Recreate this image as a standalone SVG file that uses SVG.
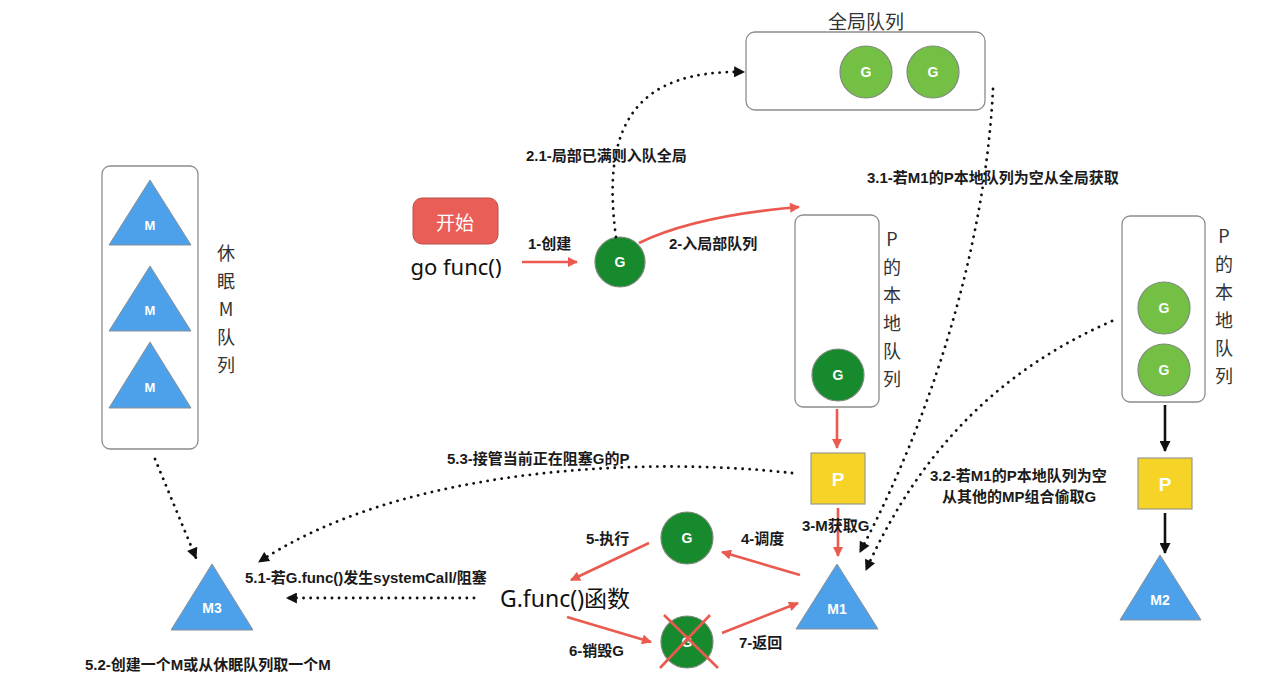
<svg xmlns="http://www.w3.org/2000/svg" width="1279" height="697" viewBox="0 0 1279 697">
<style>
.box{fill:#fff;stroke:#8c8c8c;stroke-width:1.3}
.gd{fill:#178A2E;stroke:#7d8a7d;stroke-width:1.2}
.gl{fill:#74C044;stroke:#7d8a7d;stroke-width:1.2}
.tri{fill:#4DA1EB;stroke:#8a8f94;stroke-width:1}
.pbox{fill:#F5D327;stroke:#9a9a8a;stroke-width:1.2}
.wt{font-family:"Liberation Sans","Noto Sans CJK SC",sans-serif;font-weight:bold;fill:#fff;text-anchor:middle;dominant-baseline:central}
.lb{font-family:"Liberation Sans","Noto Sans CJK SC",sans-serif;font-weight:bold;font-size:15px;fill:#1a1a1a;dominant-baseline:central}
.vt{font-family:"Noto Sans CJK SC",sans-serif;font-size:18px;fill:#333;text-anchor:middle}
.red{fill:none;stroke:#EB5A4F;stroke-width:2.6}
.blk{fill:none;stroke:#111;stroke-width:2.6}
.dot{fill:none;stroke:#111;stroke-width:2.8;stroke-linecap:round;stroke-dasharray:0.1 7}
</style>
<defs>
<marker id="ar" viewBox="0 0 10 10" refX="9" refY="5" markerWidth="12" markerHeight="10" markerUnits="userSpaceOnUse" orient="auto"><path d="M0,0 L10,5 L0,10 z" fill="#EB5A4F"/></marker>
<marker id="ab" viewBox="0 0 10 10" refX="9" refY="5" markerWidth="12" markerHeight="11" markerUnits="userSpaceOnUse" orient="auto"><path d="M0,0 L10,5 L0,10 z" fill="#111"/></marker>
<marker id="ad" viewBox="0 0 10 10" refX="9" refY="5" markerWidth="12" markerHeight="11" markerUnits="userSpaceOnUse" orient="auto"><path d="M0,0 L10,5 L0,10 z" fill="#111"/></marker>
</defs>
<rect width="1279" height="697" fill="#fff"/>

<g id="global-queue">
<text x="866" y="29" font-family="Noto Sans CJK SC,sans-serif" font-size="19" fill="#333" text-anchor="middle">全局队列</text>
<rect class="box" x="746" y="32" width="239" height="78" rx="9"/>
<circle class="gl" cx="866" cy="72" r="26"/>
<text class="wt" x="866" y="72" font-size="14">G</text>
<circle class="gl" cx="933" cy="72" r="26"/>
<text class="wt" x="933" y="72" font-size="14">G</text>
</g>

<g id="start">
<rect x="413" y="198" width="85" height="46" rx="9" fill="#EA5E58" stroke="#b8524c" stroke-width="1"/>
<text x="455" y="221" font-family="Noto Sans CJK SC,sans-serif" font-size="19" fill="#fff" text-anchor="middle" dominant-baseline="central">开始</text>
<text x="456" y="275" font-family="Noto Sans,sans-serif" font-size="22" fill="#111" text-anchor="middle">go func()</text>
</g>

<g id="g-new">
<circle class="gd" cx="620" cy="262" r="25"/>
<text class="wt" x="620" y="262" font-size="14">G</text>
</g>

<g id="p-local-1">
<rect class="box" x="795" y="215" width="84" height="192" rx="8"/>
<circle class="gd" cx="838" cy="375" r="26"/>
<text class="wt" x="838" y="375" font-size="14">G</text>
<text class="vt" x="892"><tspan x="892" y="246">P</tspan><tspan x="892" y="274">的</tspan><tspan x="892" y="302">本</tspan><tspan x="892" y="330">地</tspan><tspan x="892" y="358">队</tspan><tspan x="892" y="386">列</tspan></text>
</g>

<g id="p1">
<rect class="pbox" x="811" y="453" width="54" height="51"/>
<text class="wt" x="838" y="479" font-size="19">P</text>
</g>

<g id="m1">
<polygon class="tri" points="837,564 878,629 796,629"/>
<text class="wt" x="837" y="609" font-size="14">M1</text>
</g>

<g id="p-local-2">
<rect class="box" x="1122" y="216" width="83" height="186" rx="8"/>
<circle class="gl" cx="1164" cy="308" r="26"/>
<text class="wt" x="1164" y="308" font-size="14">G</text>
<circle class="gl" cx="1164" cy="370" r="26"/>
<text class="wt" x="1164" y="370" font-size="14">G</text>
<text class="vt" x="1224"><tspan x="1224" y="243">P</tspan><tspan x="1224" y="271">的</tspan><tspan x="1224" y="299">本</tspan><tspan x="1224" y="327">地</tspan><tspan x="1224" y="355">队</tspan><tspan x="1224" y="383">列</tspan></text>
</g>

<g id="p2">
<rect class="pbox" x="1138" y="458" width="54" height="51"/>
<text class="wt" x="1165" y="484" font-size="19">P</text>
</g>

<g id="m2">
<polygon class="tri" points="1160,555 1201,620 1120,620"/>
<text class="wt" x="1160" y="600" font-size="14">M2</text>
</g>

<g id="sleep-queue">
<rect class="box" x="102" y="166" width="96" height="283" rx="8"/>
<polygon class="tri" points="150,180 191,245 109,245"/>
<text class="wt" x="150" y="225" font-size="13">M</text>
<polygon class="tri" points="150,266 191,331 109,331"/>
<text class="wt" x="150" y="310" font-size="13">M</text>
<polygon class="tri" points="150,342 191,408 109,408"/>
<text class="wt" x="150" y="387" font-size="13">M</text>
<text class="vt" x="226"><tspan x="226" y="260">休</tspan><tspan x="226" y="288">眠</tspan><tspan x="226" y="316">M</tspan><tspan x="226" y="344">队</tspan><tspan x="226" y="372">列</tspan></text>
</g>

<g id="m3">
<polygon class="tri" points="212,564 253,630 171,630"/>
<text class="wt" x="212" y="608" font-size="14">M3</text>
</g>

<g id="g-exec">
<circle class="gd" cx="687" cy="538" r="26"/>
<text class="wt" x="687" y="538" font-size="14">G</text>
</g>

<g id="func-text">
<text x="565" y="598" font-family="Noto Sans,Noto Sans CJK SC,sans-serif" font-size="23" fill="#111" text-anchor="middle" dominant-baseline="central">G.func()函数</text>
</g>

<g id="g-dead">
<circle class="gd" cx="687" cy="642" r="26"/>
<text class="wt" x="687" y="642" font-size="14">G</text>
<line x1="664" y1="615" x2="718" y2="668" stroke="#EB5A4F" stroke-width="2.6"/>
<line x1="710" y1="615" x2="660" y2="668" stroke="#EB5A4F" stroke-width="2.6"/>
</g>

<g id="connectors">
<line class="red" x1="522" y1="262" x2="577" y2="262" marker-end="url(#ar)"/>
<path class="red" d="M639,243 C680,223 740,212 799,207" marker-end="url(#ar)"/>
<path class="dot" d="M616,237 C600,120 640,70 744,72" marker-end="url(#ad)"/>
<path class="dot" d="M993,89 C985,250 930,420 860,552" marker-end="url(#ad)"/>
<path class="dot" d="M1112,321 C1000,370 920,450 866,570" marker-end="url(#ad)"/>
<line class="red" x1="837" y1="409" x2="837" y2="448" marker-end="url(#ar)"/>
<line class="red" x1="838" y1="508" x2="838" y2="556" marker-end="url(#ar)"/>
<line class="blk" x1="1165" y1="405" x2="1165" y2="451" marker-end="url(#ab)"/>
<line class="blk" x1="1165" y1="513" x2="1165" y2="553" marker-end="url(#ab)"/>
<line class="red" x1="800" y1="575" x2="722" y2="552" marker-end="url(#ar)"/>
<line class="red" x1="649" y1="543" x2="571" y2="580" marker-end="url(#ar)"/>
<line class="red" x1="567" y1="617" x2="651" y2="642" marker-end="url(#ar)"/>
<line class="red" x1="722" y1="633" x2="798" y2="603" marker-end="url(#ar)"/>
<line class="dot" x1="474" y1="598" x2="287" y2="598" marker-end="url(#ad)"/>
<path class="dot" d="M792,473 C640,456 400,468 259,562" marker-end="url(#ad)"/>
<line class="dot" x1="155" y1="459" x2="196" y2="558" marker-end="url(#ad)"/>
</g>

<g id="labels">
<text class="lb" x="528" y="243">1-创建</text>
<text class="lb" x="669" y="243">2-入局部队列</text>
<text class="lb" x="526" y="155">2.1-局部已满则入队全局</text>
<text class="lb" x="867" y="177">3.1-若M1的P本地队列为空从全局获取</text>
<text class="lb" x="930" y="475">3.2-若M1的P本地队列为空</text>
<text class="lb" x="942" y="496">从其他的MP组合偷取G</text>
<text class="lb" x="802" y="525">3-M获取G</text>
<text class="lb" x="741" y="538">4-调度</text>
<text class="lb" x="586" y="538">5-执行</text>
<text class="lb" x="569" y="650">6-销毁G</text>
<text class="lb" x="739" y="642">7-返回</text>
<text class="lb" x="447" y="458">5.3-接管当前正在阻塞G的P</text>
<text class="lb" x="245" y="577">5.1-若G.func()发生systemCall/阻塞</text>
<text class="lb" x="85" y="664">5.2-创建一个M或从休眠队列取一个M</text>
</g>
</svg>
